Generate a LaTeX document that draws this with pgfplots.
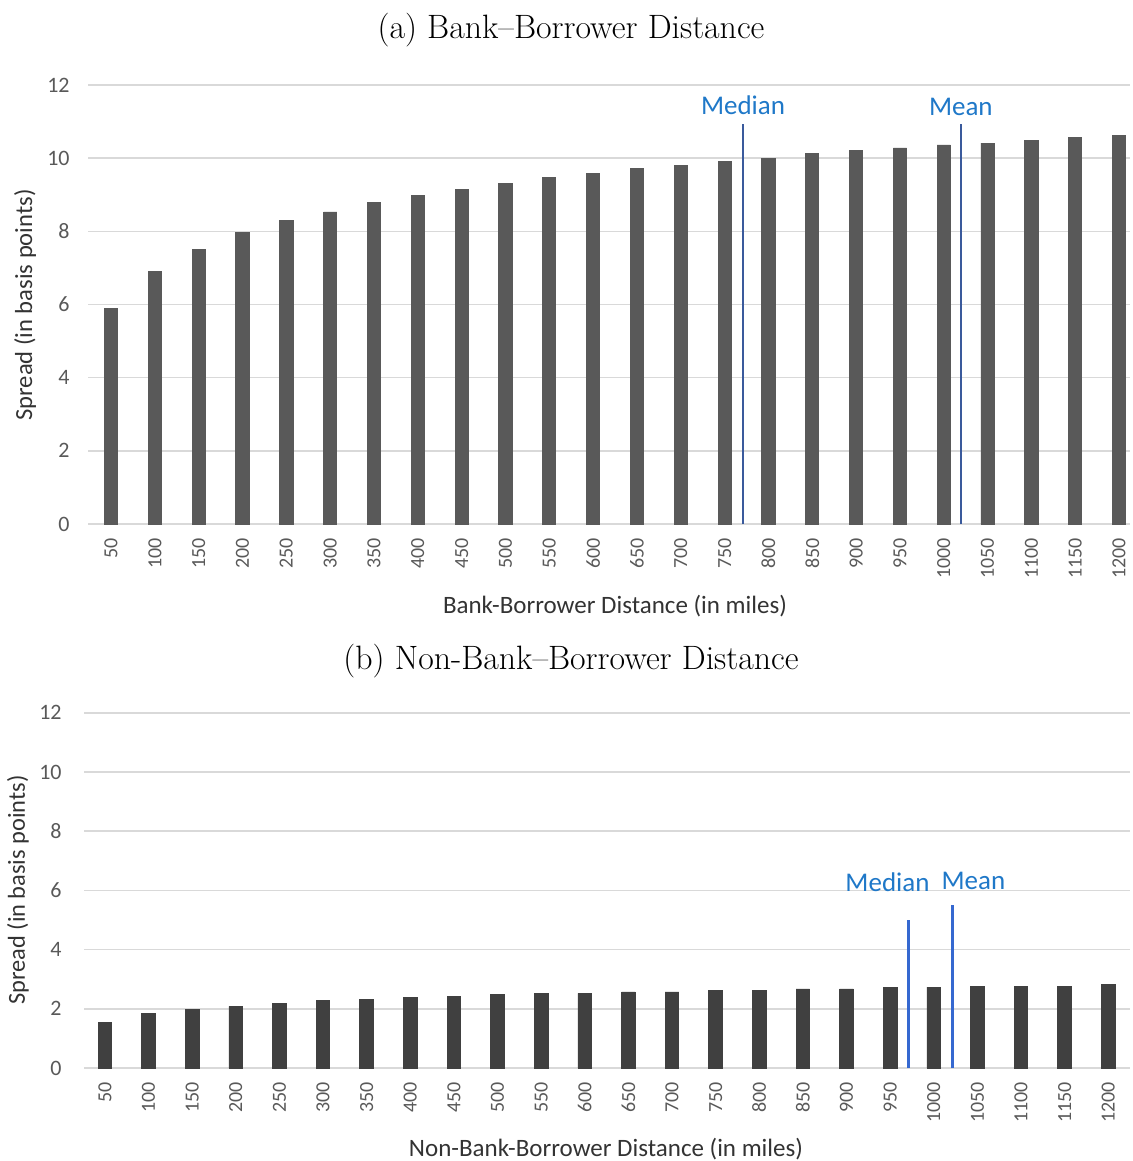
\documentclass[border=0pt]{standalone}
\usepackage{fontspec}
\usepackage{pgfplots}
\usepackage{pgfplotstable}
\pgfplotsset{compat=1.18}
\newfontfamily\carlito{Carlito}
\definecolor{bartop}{HTML}{595959}
\definecolor{barbot}{HTML}{404040}
\definecolor{gridc}{HTML}{D9D9D9}
\definecolor{tickc}{HTML}{595959}
\definecolor{lblc}{HTML}{1F78C8}
\definecolor{linetop}{HTML}{3A5A9C}
\definecolor{linebot}{HTML}{3568D0}
\pgfplotsset{mystyle/.style={scale only axis, anchor=south west,
  ymin=0, ymax=12, ytick={0,2,...,12}, xtick={0,...,23},
  xticklabels={50,100,150,200,250,300,350,400,450,500,550,600,650,700,750,800,850,900,950,1000,1050,1100,1150,1200},
  axis line style={draw=none}, major tick length=0pt,
  ymajorgrids, grid style={gridc, line width=0.8pt},
  /pgf/number format/assume math mode=true,
  yticklabel style={font=\carlito\fontsize{11}{13}\selectfont, text=tickc, anchor=east, inner sep=0pt},
  xticklabel style={font=\carlito\fontsize{10}{12}\selectfont, text=tickc, rotate=90, anchor=east, inner sep=0pt},
  xticklabel shift=7pt, clip=false}}
\pgfplotstableread{
x y
0 5.88
1 6.90
2 7.51
3 7.97
4 8.29
5 8.53
6 8.78
7 8.98
8 9.14
9 9.31
10 9.47
11 9.58
12 9.72
13 9.80
14 9.92
15 10.00
16 10.12
17 10.21
18 10.28
19 10.36
20 10.41
21 10.49
22 10.57
23 10.61
}\banktab
\pgfplotstableread{
x y
0 1.53
1 1.83
2 1.98
3 2.08
4 2.17
5 2.28
6 2.32
7 2.38
8 2.42
9 2.48
10 2.52
11 2.52
12 2.57
13 2.57
14 2.63
15 2.63
16 2.67
17 2.67
18 2.73
19 2.73
20 2.77
21 2.77
22 2.77
23 2.83
}\nonbanktab
\begin{document}
\begin{tikzpicture}
\path[use as bounding box] (0,0) rectangle (566pt,-580.5pt);
% Top panel
\begin{axis}[mystyle, at={(44pt,-262pt)}, width=521pt, height=219.5pt,
  xmin=-0.525, xmax=23.25, yticklabel shift=9pt]
\addplot[ybar, bar width=6.6pt, fill=bartop, draw=bartop] table[x=x,y=y] {\banktab};
\addplot[linetop, line width=1pt, no marks] coordinates {(14.42,0) (14.42,10.94)};
\addplot[linetop, line width=1pt, no marks] coordinates {(19.39,0) (19.39,10.94)};
\node[text=lblc, font=\carlito\fontsize{13.5}{15}\selectfont] at (axis cs:14.42,11.46) {Median};
\node[text=lblc, font=\carlito\fontsize{13.5}{15}\selectfont] at (axis cs:19.39,11.41) {Mean};
\end{axis}
% Bottom panel
\begin{axis}[mystyle, at={(42pt,-534pt)}, width=523pt, height=177.6pt,
  xmin=-0.48, xmax=23.5, yticklabel shift=11pt]
\addplot[ybar, bar width=6.8pt, fill=barbot, draw=barbot] table[x=x,y=y] {\nonbanktab};
\addplot[linebot, line width=1.2pt, no marks] coordinates {(18.42,0) (18.42,5.0)};
\addplot[linebot, line width=1.2pt, no marks] coordinates {(19.43,0) (19.43,5.5)};
\node[text=lblc, font=\carlito\fontsize{13.5}{15}\selectfont] at (axis cs:17.94,6.28) {Median};
\node[text=lblc, font=\carlito\fontsize{13.5}{15}\selectfont] at (axis cs:19.91,6.31) {Mean};
\end{axis}
% Titles and labels
\node[font=\fontsize{16.9}{20}\selectfont] at (285.5pt,-15pt) {(a) Bank--Borrower Distance};
\node[font=\fontsize{16.9}{20}\selectfont] at (285.5pt,-330.5pt) {(b) Non-Bank--Borrower Distance};
\node[font=\carlito\fontsize{12.5}{15}\selectfont, text=black!80] at (307.5pt,-303pt) {Bank-Borrower Distance (in miles)};
\node[font=\carlito\fontsize{12.5}{15}\selectfont, text=black!80] at (303pt,-574.5pt) {Non-Bank-Borrower Distance (in miles)};
\node[rotate=90, font=\carlito\fontsize{12.3}{14}\selectfont, text=black!80] at (12.5pt,-152.5pt) {Spread (in basis points)};
\node[rotate=90, font=\carlito\fontsize{12.2}{14}\selectfont, text=black!80] at (9pt,-445pt) {Spread (in basis points)};
\end{tikzpicture}
\end{document}
